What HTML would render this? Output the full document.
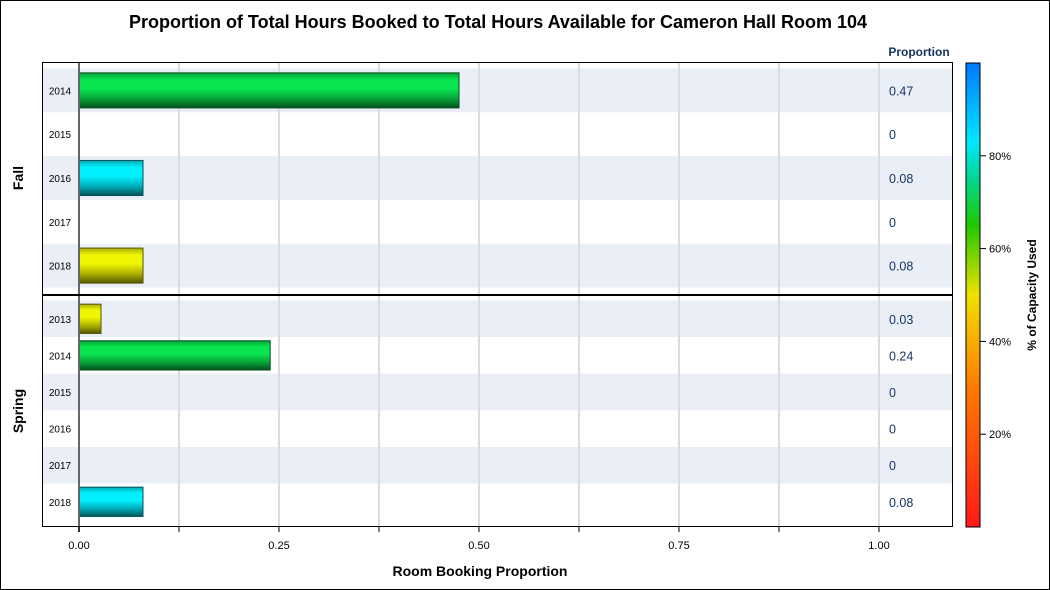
<!DOCTYPE html>
<html><head><meta charset="utf-8"><style>
body{margin:0;background:#fff}
svg{display:block;font-family:"Liberation Sans",Arial,sans-serif}
</style></head><body>
<svg id="c" width="1050" height="590" viewBox="0 0 1050 590" xmlns="http://www.w3.org/2000/svg">
<defs>
<linearGradient id="cb" x1="0" y1="1" x2="0" y2="0">
<stop offset="0" stop-color="#ff1a1a"/><stop offset="0.3" stop-color="#ff7a00"/><stop offset="0.5" stop-color="#f0e000"/><stop offset="0.65" stop-color="#20c800"/><stop offset="0.75" stop-color="#00d890"/><stop offset="0.83" stop-color="#00e8ff"/><stop offset="1" stop-color="#0078ff"/>
</linearGradient>
</defs>
<rect x="0.5" y="0.5" width="1049" height="589" fill="#fff" stroke="#000"/>
<text x="498" y="28" text-anchor="middle" font-size="18" font-weight="bold">Proportion of Total Hours Booked to Total Hours Available for Cameron Hall Room 104</text>
<text x="919" y="56" text-anchor="middle" font-size="12" font-weight="bold" fill="#13325e">Proportion</text>
<g id="plot"></g>
<rect x="966" y="63" width="14" height="464" fill="url(#cb)" stroke="#000"/>
<g id="cbticks"></g>
<text transform="translate(1036,295) rotate(-90)" text-anchor="middle" font-size="12" font-weight="bold">% of Capacity Used</text>
<text x="480" y="576" text-anchor="middle" font-size="14" font-weight="bold">Room Booking Proportion</text>
</svg>
<script>
const fallYears=["2014","2015","2016","2017","2018"];
const fallValues=[0.475,0,0.08,0,0.08];
const fallLabels=["0.47","0","0.08","0","0.08"];
const fallCapacity=[70,0,83,0,52];
const springYears=["2013","2014","2015","2016","2017","2018"];
const springValues=[0.0275,0.239,0,0,0,0.08];
const springLabels=["0.03","0.24","0","0","0","0.08"];
const springCapacity=[52,70,0,0,0,83];
const xTicks=[0,0.25,0.5,0.75,1];
const xTickLabels=["0.00","0.25","0.50","0.75","1.00"];
const cbTicks=[20,40,60,80];

const NS="http://www.w3.org/2000/svg";
const X=v=>79+v*800;
const CB=p=>527-p*4.64;
const plot=document.getElementById('plot');
function mk(tag,attrs,parent,text){const e=document.createElementNS(NS,tag);for(const k in attrs)e.setAttribute(k,attrs[k]);if(text!==undefined)e.textContent=text;(parent||plot).appendChild(e);return e;}
function colorFor(p){
  const stops=[[0,[255,26,26]],[30,[255,122,0]],[50,[250,240,0]],[55,[225,255,0]],[65,[32,200,0]],[72,[0,240,110]],[83,[0,240,255]],[100,[0,120,255]]];
  for(let i=1;i<stops.length;i++){if(p<=stops[i][0]){const a=stops[i-1],b=stops[i],t=(p-a[0])/(b[0]-a[0]);return a[1].map((c,j)=>Math.round(c+(b[1][j]-c)*t));}}
  return stops[stops.length-1][1];
}
const defs=document.querySelector('defs');
let gid=0;
function panel(years,vals,labels,caps,top,pitch,pname,ytop,ybot){
  years.forEach((y,i)=>{
    const y0=top+i*pitch;
    if(i%2===0){const b=mk('rect',{x:43,y:y0,width:910,height:pitch,fill:'#e9eef7'});
      
      }
  });
  for(let k=1;k<=8;k++){const l=mk('line',{x1:X(k*0.125),x2:X(k*0.125),y1:ytop,y2:ybot,stroke:'#dcdce0','stroke-width':2});
    
    }
  years.forEach((y,i)=>{
    const cy=top+(i+0.5)*pitch;
    const t=mk('text',{x:60,y:cy+4,'text-anchor':'middle','font-size':10},plot,y);
    
    
    const v=mk('text',{x:889,y:cy+5,'font-size':12.5,fill:'#13325e'},plot,labels[i]);
    
    
    if(vals[i]>0){
      const c=colorFor(caps[i]);const id='g'+(gid++);
      const g=document.createElementNS(NS,'linearGradient');g.setAttribute('id',id);g.setAttribute('x1',0);g.setAttribute('y1',0);g.setAttribute('x2',0);g.setAttribute('y2',1);
      const dk=c.map(x=>Math.round(x*0.35)).join(','),md=c.join(','),mid2=c.map(x=>Math.round(x*0.7)).join(',');
      [[0,mid2],[0.2,md],[0.45,md],[0.75,mid2],[1,dk]].forEach(s=>{const st=document.createElementNS(NS,'stop');st.setAttribute('offset',s[0]);st.setAttribute('stop-color','rgb('+s[1]+')');g.appendChild(st);});
      defs.appendChild(g);
      const h=pitch*0.8;
      const r=mk('rect',{x:X(0),y:cy-h/2,width:X(vals[i])-X(0),height:h,fill:'url(#'+id+')',stroke:'rgb('+dk+')','stroke-width':1});
      
      
    }
  });
}
panel(fallYears,fallValues,fallLabels,fallCapacity,68.5,43.8,'fall',63,295);
panel(springYears,springValues,springLabels,springCapacity,300.5,36.6,'spring',295,527);
const ax=mk('line',{x1:79,x2:79,y1:62,y2:532,stroke:'#666','stroke-width':2});


const fr=mk('rect',{x:42.5,y:62.5,width:910,height:464,fill:'none',stroke:'#000'});


const dv=mk('line',{x1:42,x2:953,y1:295,y2:295,stroke:'#000','stroke-width':2});


for(let k=0;k<=8;k++){const t=mk('line',{x1:X(k*0.125),x2:X(k*0.125),y1:527,y2:532,stroke:'#000'});
  
  }
xTicks.forEach((v,i)=>{const t=mk('text',{x:X(v),y:549,'text-anchor':'middle','font-size':11},plot,xTickLabels[i]);
  
  });
const f=mk('text',{transform:'translate(23,178) rotate(-90)','text-anchor':'middle','font-size':14,'font-weight':'bold'},plot,'Fall');


const s=mk('text',{transform:'translate(23,411) rotate(-90)','text-anchor':'middle','font-size':14,'font-weight':'bold'},plot,'Spring');


const cbg=document.getElementById('cbticks');
cbTicks.forEach(p=>{
  const l=mk('line',{x1:980,x2:986,y1:CB(p),y2:CB(p),stroke:'#000'},cbg);
  
  
  const t=mk('text',{x:989,y:CB(p)+4,'font-size':11},cbg,p+'%');
  
  
});
</script>
</body></html>
